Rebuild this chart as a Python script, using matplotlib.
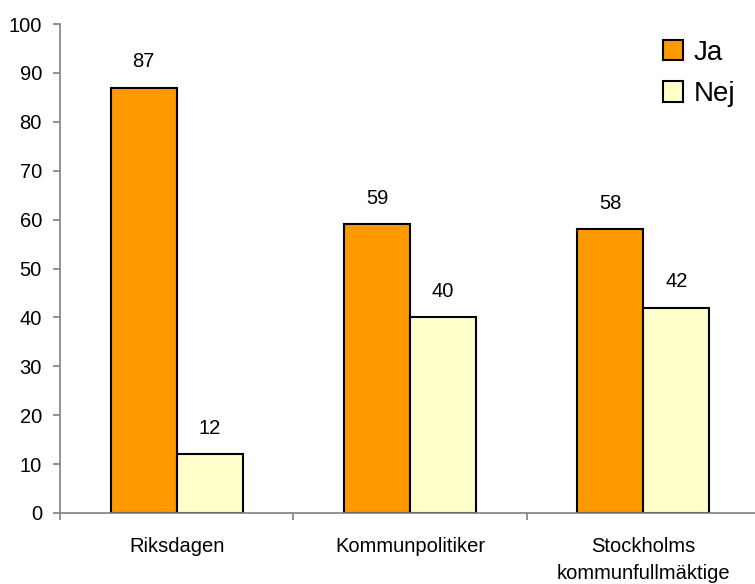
import matplotlib
matplotlib.use("Agg")
import matplotlib.pyplot as plt
import numpy as np

categories = ["Riksdagen", "Kommunpolitiker", "Stockholms\nkommunfullmäktige"]
ja = [87, 59, 58]
nej = [12, 40, 42]
series_names = ["Ja", "Nej"]

plt.rcParams['font.family'] = ['Liberation Sans', 'DejaVu Sans']

W, H = 755, 584
fig = plt.figure(figsize=(W/100, H/100), dpi=100)
ax = fig.add_axes([60/W, (H-513)/H, 700/W, (513-24)/H])

x = np.arange(len(categories))
bw = 0.283
b1 = ax.bar(x - bw/2, ja, bw, color="#FF9900", edgecolor="black", linewidth=1.5, label=series_names[0])
b2 = ax.bar(x + bw/2, nej, bw, color="#FFFFCC", edgecolor="black", linewidth=1.5, label=series_names[1])

for bars, vals in ((b1, ja), (b2, nej)):
    for r, v in zip(bars, vals):
        ax.annotate(str(v), (r.get_x() + r.get_width()/2, v), xytext=(0, 12),
                    textcoords="offset points", ha="center", va="bottom", fontsize=14.5)

ax.set_xlim(-0.5, 2.5)
ax.set_ylim(0, 100)
ax.set_yticks(range(0, 101, 10))
ax.set_xticks(x)
ax.set_xticklabels(categories, fontsize=14.5, linespacing=1.58)
ax.set_xticks([-0.5, 0.5, 1.5, 2.5], minor=True)
ax.tick_params(axis="x", which="major", length=0, pad=17)
ax.tick_params(axis="x", which="minor", length=5, color="#808080", width=1.2, direction="out")
ax.tick_params(axis="y", length=5, color="#808080", width=1.2, direction="out", labelsize=14.5, pad=8)

for s in ("top", "right"):
    ax.spines[s].set_visible(False)
for s in ("left", "bottom"):
    ax.spines[s].set_color("#808080")
    ax.spines[s].set_linewidth(1.2)

leg = ax.legend(loc="upper left", bbox_to_anchor=(592/700, 0.99), frameon=False,
                fontsize=20, handlelength=0.7, handleheight=0.75, handletextpad=0.4,
                labelspacing=0.55, borderaxespad=0)

fig.savefig("out.png", dpi=100)
